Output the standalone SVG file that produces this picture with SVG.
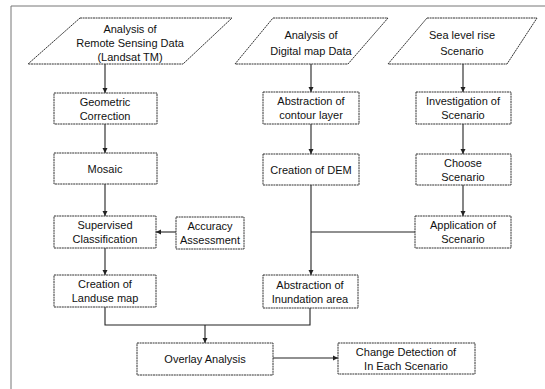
<svg xmlns="http://www.w3.org/2000/svg" width="545" height="389" viewBox="0 0 545 389">
<defs>
<style>
.b{fill:#fff;stroke:#333;stroke-width:1;stroke-dasharray:2 0.6}
.t{font-family:"Liberation Sans",Arial,sans-serif;font-size:11px;fill:#111;text-anchor:middle}
.c{fill:none;stroke:#222;stroke-width:1.1}
.f{fill:none;stroke:#777;stroke-width:1}
</style>
<marker id="a" markerWidth="6" markerHeight="6" refX="5" refY="3" orient="auto" markerUnits="userSpaceOnUse">
<path d="M0,0.5 L5,3 L0,5.5 Z" fill="#222"/>
</marker>
</defs>
<rect width="545" height="389" fill="#fff"/>
<path class="f" d="M11,389 V6 H545"/>

<g id="connectors">
<path class="c" d="M105,64 V93" marker-end="url(#a)"/>
<path class="c" d="M105,124 V153" marker-end="url(#a)"/>
<path class="c" d="M105,184 V216" marker-end="url(#a)"/>
<path class="c" d="M105,248 V275" marker-end="url(#a)"/>
<path class="c" d="M176,232 H156" marker-end="url(#a)"/>
<path class="c" d="M311,64 V92" marker-end="url(#a)"/>
<path class="c" d="M311,124 V154" marker-end="url(#a)"/>
<path class="c" d="M311,185 V275" marker-end="url(#a)"/>
<path class="c" d="M415,232 H311"/>
<path class="c" d="M463,64 V92" marker-end="url(#a)"/>
<path class="c" d="M463,124 V154" marker-end="url(#a)"/>
<path class="c" d="M463,185 V216" marker-end="url(#a)"/>
<path class="c" d="M105,307 V325 H310 V308"/>
<path class="c" d="M205,325 V343" marker-end="url(#a)"/>
<path class="c" d="M273,358 H338" marker-end="url(#a)"/>
</g>

<g id="remote">
<polygon class="b" points="80,18 232,18 183,64 28,64"/>
<text class="t" x="130" y="33">Analysis of</text>
<text class="t" x="130" y="47">Remote Sensing Data</text>
<text class="t" x="130" y="61">(Landsat TM)</text>
</g>
<g id="digital">
<polygon class="b" points="273,18 388,18 348,64 235,64"/>
<text class="t" x="311" y="39">Analysis of</text>
<text class="t" x="311" y="55">Digital map Data</text>
</g>
<g id="sealevel">
<polygon class="b" points="427,18 537,18 507,64 388,64"/>
<text class="t" x="462" y="39">Sea level rise</text>
<text class="t" x="462" y="55">Scenario</text>
</g>

<g id="geometric">
<rect class="b" x="54" y="93" width="103" height="31"/>
<text class="t" x="105" y="106">Geometric</text>
<text class="t" x="105" y="120">Correction</text>
</g>
<g id="mosaic">
<rect class="b" x="54" y="153" width="103" height="31"/>
<text class="t" x="105" y="173">Mosaic</text>
</g>
<g id="supervised">
<rect class="b" x="54" y="216" width="102" height="32"/>
<text class="t" x="105" y="229">Supervised</text>
<text class="t" x="105" y="243">Classification</text>
</g>
<g id="accuracy">
<rect class="b" x="176" y="217" width="68" height="32"/>
<text class="t" x="210" y="230">Accuracy</text>
<text class="t" x="210" y="244">Assessment</text>
</g>
<g id="landuse">
<rect class="b" x="54" y="275" width="102" height="32"/>
<text class="t" x="105" y="288">Creation of</text>
<text class="t" x="105" y="302">Landuse map</text>
</g>

<g id="contour">
<rect class="b" x="263" y="92" width="96" height="32"/>
<text class="t" x="311" y="105">Abstraction of</text>
<text class="t" x="311" y="119">contour layer</text>
</g>
<g id="dem">
<rect class="b" x="263" y="154" width="96" height="31"/>
<text class="t" x="311" y="174">Creation of DEM</text>
</g>
<g id="inundation">
<rect class="b" x="263" y="275" width="95" height="33"/>
<text class="t" x="310" y="289">Abstraction of</text>
<text class="t" x="310" y="303">Inundation area</text>
</g>

<g id="investigation">
<rect class="b" x="416" y="92" width="95" height="32"/>
<text class="t" x="463" y="105">Investigation of</text>
<text class="t" x="463" y="119">Scenario</text>
</g>
<g id="choose">
<rect class="b" x="416" y="154" width="95" height="31"/>
<text class="t" x="463" y="167">Choose</text>
<text class="t" x="463" y="181">Scenario</text>
</g>
<g id="application">
<rect class="b" x="415" y="216" width="96" height="32"/>
<text class="t" x="463" y="229">Application of</text>
<text class="t" x="463" y="243">Scenario</text>
</g>

<g id="overlay">
<rect class="b" x="137" y="343" width="136" height="32"/>
<text class="t" x="205" y="363">Overlay Analysis</text>
</g>
<g id="change">
<rect class="b" x="338" y="343" width="137" height="31"/>
<text class="t" x="406" y="356">Change Detection of</text>
<text class="t" x="406" y="370">In Each Scenario</text>
</g>
</svg>
